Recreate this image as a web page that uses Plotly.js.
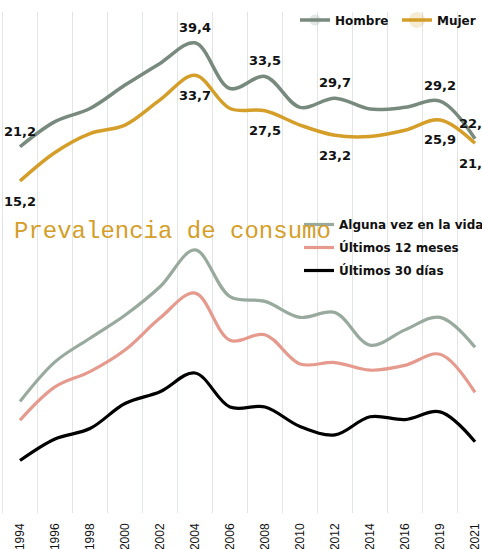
<!DOCTYPE html>
<html><head><meta charset="utf-8">
<script src="https://cdn.plot.ly/plotly-3.0.1.min.js"></script>
<style>html,body{margin:0;padding:0;background:#fff;overflow:hidden}</style>
</head><body><div id="chart" style="width:482px;height:549px"></div>
<script>
// Categories
const years = ['1994','1996','1998','2000','2002','2004','2006','2008','2010','2012','2014','2016','2019','2021'];
// Top chart: by sex
const hombre = [21.2, 25.6, 27.9, 32.0, 35.8, 39.4, 31.4, 33.5, 28.1, 29.7, 27.8, 28.1, 29.2, 22.6];
const mujer  = [15.2, 20.2, 23.5, 25.0, 29.4, 33.7, 27.9, 27.5, 25.0, 23.2, 23.0, 24.1, 25.9, 21.8];
const labelIdx = [0, 5, 7, 9, 12, 13];
// Bottom chart: prevalence
const alguna  = [20.8, 26.5, 29.9, 33.2, 37.3, 42.6, 35.9, 35.2, 32.9, 33.6, 28.9, 31.1, 32.9, 28.6];
const meses12 = [18.1, 22.9, 25.1, 28.2, 32.8, 36.4, 29.6, 30.4, 26.2, 26.4, 25.3, 26.0, 27.6, 22.1];
const dias30  = [12.3, 15.4, 16.9, 20.5, 22.2, 24.9, 20.0, 20.0, 17.2, 16.0, 18.6, 18.2, 19.3, 15.0];
const titleText = 'Prevalencia de consumo';

function lbl(arr){ return arr.map((v,i)=> labelIdx.includes(i) ? v.toFixed(1).replace('.', ',') : ''); }

const labFont = {family:'DejaVu Sans', size:13, weight:'bold', color:'#111'};
const legFont = {family:'DejaVu Sans', size:12, weight:'bold', color:'#111'};

const traces = [
  {x: years, y: hombre, name: 'Hombre', type:'scatter', mode:'lines+markers+text', yaxis:'y2',
   line:{color:'#778a7d', width:3.5, shape:'spline', smoothing:1},
   marker:{size:11, opacity:0, color:'#778a7d'},
   text: lbl(hombre), textposition:'top center', textfont: labFont, cliponaxis:false, legend:'legend'},
  {x: years, y: mujer, name: 'Mujer', type:'scatter', mode:'lines+markers+text', yaxis:'y2',
   line:{color:'#d49e29', width:3.5, shape:'spline', smoothing:1},
   marker:{size:22, opacity:0, color:'#d49e29'},
   text: lbl(mujer), textposition:'bottom center', textfont: labFont, cliponaxis:false, legend:'legend'},
  {x: years, y: alguna, name: 'Alguna vez en la vida', type:'scatter', mode:'lines', yaxis:'y',
   line:{color:'#98a99d', width:3.2, shape:'spline', smoothing:1}, legend:'legend2', legendgroup:'g1'},
  {x: years, y: meses12, name: 'Últimos 12 meses', type:'scatter', mode:'lines', yaxis:'y',
   line:{color:'#e69a8e', width:3.2, shape:'spline', smoothing:1}, legend:'legend2', legendgroup:'g2'},
  {x: years, y: dias30, name: 'Últimos 30 días', type:'scatter', mode:'lines', yaxis:'y',
   line:{color:'#000000', width:3.2, shape:'spline', smoothing:1}, legend:'legend2', legendgroup:'g3'}
];

const split = (513-210)/501;
const layout = {
  width: 482, height: 549,
  margin: {l:0, r:0, t:12, b:36, pad:0, autoexpand:false},
  paper_bgcolor:'#ffffff', plot_bgcolor:'rgba(0,0,0,0)',
  showlegend: true,
  hovermode: false,
  xaxis: {type:'category', range:[-0.571, 13.2], tickson:'boundaries', showgrid:true,
          gridcolor:'#e1e5e5', gridwidth:1.5, ticks:'', tickangle:-90, showline:false, zeroline:false,
          automargin:false, anchor:'y', ticklabelstandoff:7,
          tickfont:{family:'Liberation Sans', size:12, color:'#111'}},
  yaxis: {domain:[0, split], range:[4.75, 48.35], visible:false, fixedrange:true},
  yaxis2: {domain:[split, 1], range:[10.12, 44.80], visible:false, fixedrange:true},
  legend: {orientation:'h', x:295/482, xanchor:'left', y:(513-20)/501, yanchor:'middle',
           entrywidth:57, bgcolor:'rgba(0,0,0,0)', borderwidth:0, font:legFont},
  legend2: {orientation:'v', x:299/482, xanchor:'left', y:(513-210)/501, yanchor:'top',
           traceorder:'grouped', tracegroupgap:4,
           bgcolor:'rgba(0,0,0,0)', borderwidth:0, font:legFont},
  annotations: [
    {text: titleText, xref:'paper', yref:'paper', x:12/482, xanchor:'left', y:(513-231)/501, yanchor:'middle',
     showarrow:false, font:{family:'Courier New, Liberation Mono, monospace', size:24, color:'#d49e29'}}
  ]
};

Plotly.newPlot('chart', traces, layout, {displayModeBar:false, staticPlot:true});
</script>
</body></html>
